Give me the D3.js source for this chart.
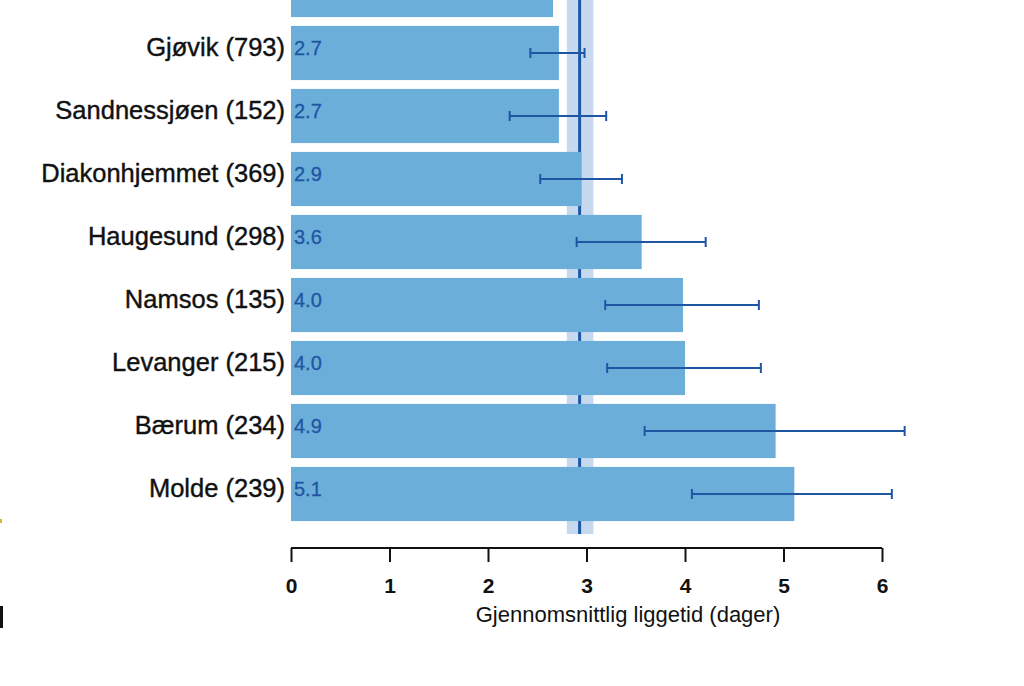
<!DOCTYPE html>
<html><head><meta charset="utf-8">
<script src="https://cdn.jsdelivr.net/npm/d3@7"></script>
<style>body{margin:0;background:#fff;} svg{display:block;}</style>
</head><body>
<svg id="c" width="1024" height="686"></svg>
<script>
// Data (top row is cut off in the reference; its label is outside the view)
const categories = ["", "Gjøvik (793)", "Sandnessjøen (152)", "Diakonhjemmet (369)", "Haugesund (298)", "Namsos (135)", "Levanger (215)", "Bærum (234)", "Molde (239)"];
const values     = [2.66, 2.72, 2.72, 2.95, 3.56, 3.98, 4.00, 4.92, 5.11];
const valueLabels= ["2.7", "2.7", "2.7", "2.9", "3.6", "4.0", "4.0", "4.9", "5.1"];
const ciLow      = [null, 2.43, 2.22, 2.53, 2.90, 3.19, 3.21, 3.59, 4.07];
const ciHigh     = [null, 2.98, 3.20, 3.36, 4.21, 4.75, 4.77, 6.23, 6.10];
const refMean = 2.93, refLow = 2.80, refHigh = 3.07;
const xTicks = [0, 1, 2, 3, 4, 5, 6];
const xTitle = "Gjennomsnittlig liggetid (dager)";

const svg = d3.select("#c");
const font = "'Liberation Sans', Arial, sans-serif";
const x = d3.scaleLinear().domain([0, 6]).range([291, 882]);
const y = d3.scaleBand().domain(categories.map((c,i)=>i)).range([-41.5, 525.5]).paddingInner(0.14).paddingOuter(0.07);
const cy = i => y(i) + y.bandwidth()/2;

// reference band and line (behind bars)
svg.append("rect").attr("x", x(refLow)).attr("y", 0).attr("width", x(refHigh)-x(refLow)).attr("height", 534).attr("fill", "#c6d9ef");
svg.append("line").attr("x1", x(refMean)).attr("x2", x(refMean)).attr("y1", 0).attr("y2", 534).attr("stroke", "#1c5aa6").attr("stroke-width", 3);

// bars
svg.selectAll("rect.bar").data(values).join("rect").attr("class","bar")
  .attr("x", x(0)).attr("y", (d,i)=>y(i)).attr("width", d=>x(d)-x(0)).attr("height", y.bandwidth())
  .attr("fill", "#6baed9");

// error bars
const eb = svg.append("g").attr("stroke", "#1f56a3").attr("stroke-width", 2);
values.forEach((d,i)=>{
  if (ciLow[i]==null) return;
  const yy = cy(i);
  eb.append("line").attr("x1", x(ciLow[i])).attr("x2", x(ciHigh[i])).attr("y1", yy).attr("y2", yy);
  eb.append("line").attr("x1", x(ciLow[i])).attr("x2", x(ciLow[i])).attr("y1", yy-5).attr("y2", yy+5);
  eb.append("line").attr("x1", x(ciHigh[i])).attr("x2", x(ciHigh[i])).attr("y1", yy-5).attr("y2", yy+5);
});

// value labels (only rows whose label lies inside the view)
const visible = categories.map((c,i)=>i).filter(i => cy(i) - 16 > 0);
svg.selectAll("text.val").data(visible).join("text").attr("class","val")
  .attr("x", x(0)+3).attr("y", i=>cy(i)+2)
  .attr("font-family", font).attr("font-size", 20).attr("fill", "#1f56a3")
  .attr("stroke", "#1f56a3").attr("stroke-width", 0.3).text(i=>valueLabels[i]);

// category labels
svg.selectAll("text.cat").data(visible).join("text").attr("class","cat")
  .attr("x", 285).attr("y", i=>cy(i)+2.5)
  .attr("text-anchor", "end").attr("font-family", font).attr("font-size", 25.5).attr("fill", "#111")
  .attr("stroke", "#111").attr("stroke-width", 0.4).text(i=>categories[i]);

// x axis
const ax = svg.append("g").attr("transform", "translate(0,548)")
  .call(d3.axisBottom(x).tickValues(xTicks).tickSize(14).tickSizeOuter(0).tickFormat(d3.format("d")));
ax.select(".domain").attr("stroke", "#111").attr("stroke-width", 2).attr("d", `M${x(0)},0H${x(6)}`);
ax.selectAll(".tick line").attr("stroke", "#111").attr("stroke-width", 2);
ax.selectAll(".tick text").attr("font-family", font).attr("font-size", 21).attr("font-weight", "bold").attr("fill", "#111")
  .attr("y", 45).attr("dy", null);
svg.append("text").attr("x", 628).attr("y", 622).attr("text-anchor", "middle")
  .attr("font-family", font).attr("font-size", 22).attr("fill", "#111").text(xTitle);

// small cut-off marks at the left edge
svg.append("rect").attr("x", 0).attr("y", 519).attr("width", 2).attr("height", 4).attr("fill", "#d8b43a");
svg.append("rect").attr("x", 0).attr("y", 606).attr("width", 3).attr("height", 22).attr("fill", "#111");
</script>
</body></html>
